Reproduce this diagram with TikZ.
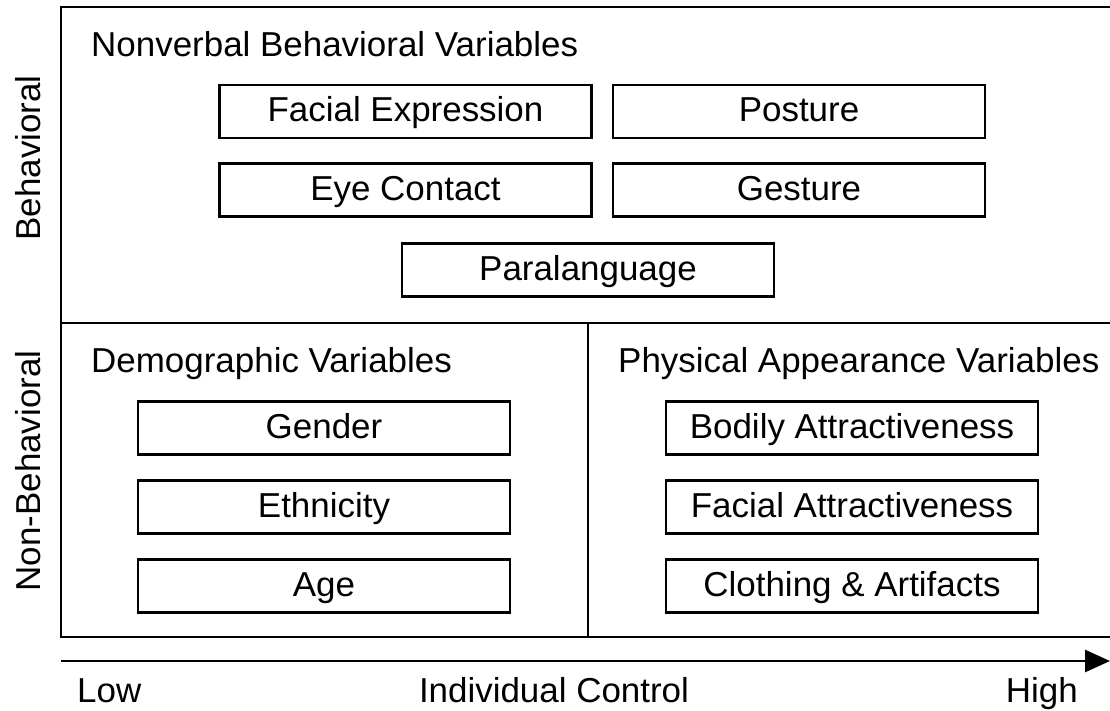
\documentclass[tikz,border=0pt]{standalone}
\usepackage{fontspec}
\setmainfont{Liberation Sans}[FakeStretch=1.01]
\usetikzlibrary{arrows.meta}
\begin{document}
\begin{tikzpicture}[x=1pt,y=-1pt,
  frame/.style={line width=2.8pt},
  varbox/.style={draw,line width=2.6pt,minimum width=372pt,minimum height=53pt,inner sep=0pt,text height=27pt,text depth=6pt,font=\fontsize{34.6}{40}\selectfont},
  lab/.style={inner sep=0pt,font=\fontsize{34.6}{40}\selectfont}]
\useasboundingbox (0,0) rectangle (1110,711);
% frame
\coordinate (tl) at (61,7);
\coordinate (tr) at (1110,7);
\coordinate (bl) at (61,637);
\coordinate (br) at (1110,637);
\coordinate (ml) at (61,323);
\coordinate (mr) at (1110,323);
\coordinate (dt) at (588,323);
\coordinate (db) at (588,637);
\draw[frame] (tr) -- (tl) -- (bl) -- (br);
\draw[frame] (ml) -- (mr);
\draw[frame] (dt) -- (db);
% arrow
\coordinate (as) at (61,661);
\coordinate (ae) at (1110,661);
\draw[frame,-{Triangle[length=25pt,width=22pt]}] (as) -- (ae);
% headers
\node[lab,anchor=base west] (h1) at (91,57) {Nonverbal Behavioral Variables};
\node[lab,anchor=base west] (h2) at (91,372) {Demographic Variables};
\node[lab,anchor=base west] (h3) at (618,372) {Physical Appearance Variables};
% side labels
\node[lab,rotate=90] (s1) at (28,158) {Behavioral};
\node[lab,rotate=90] (s2) at (28,471) {Non-Behavioral};
% boxes
\node[varbox] (fe) at (405.5,111.5) {Facial Expression};
\node[varbox] (po) at (799,111.5) {Posture};
\node[varbox] (ec) at (405.5,190) {Eye Contact};
\node[varbox] (ge) at (799,190) {Gesture};
\node[varbox] (pa) at (588,270) {Paralanguage};
\node[varbox] (gd) at (324,428) {Gender};
\node[varbox] (et) at (324,507) {Ethnicity};
\node[varbox] (ag) at (324,586) {Age};
\node[varbox] (ba) at (852,428) {Bodily Attractiveness};
\node[varbox] (fa) at (852,507) {Facial Attractiveness};
\node[varbox] (ca) at (852,586) {Clothing \& Artifacts};
% axis labels
\node[lab,anchor=base west] (lo) at (77,702) {Low};
\node[lab,anchor=base] (ic) at (554,702) {Individual Control};
\node[lab,anchor=base east] (hi) at (1078,702) {High};
\end{tikzpicture}
\end{document}
